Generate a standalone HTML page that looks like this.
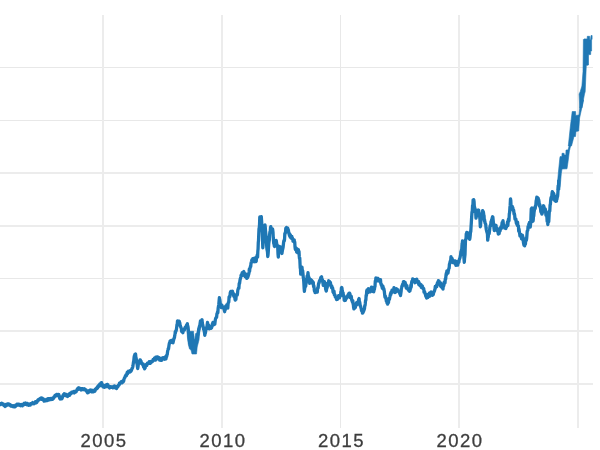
<!DOCTYPE html>
<html><head><meta charset="utf-8"><style>
html,body{margin:0;padding:0;background:#fff;width:600px;height:450px;overflow:hidden}
svg{display:block}
text{font-family:"Liberation Sans",sans-serif;font-size:18.5px;fill:#3d3d3d;stroke:#3d3d3d;stroke-width:0.3px;filter:grayscale(1);text-anchor:middle;letter-spacing:1.5px}
</style></head><body>
<svg width="600" height="450" viewBox="0 0 600 450">
<rect width="600" height="450" fill="#fff"/>
<g shape-rendering="crispEdges"><rect x="0" y="67" width="593" height="1" fill="#e8e8e8"/><rect x="0" y="120" width="593" height="1" fill="#e8e8e8"/><rect x="0" y="172" width="593" height="2" fill="#ececec"/><rect x="0" y="225" width="593" height="2" fill="#ececec"/><rect x="0" y="278" width="593" height="1" fill="#e8e8e8"/><rect x="0" y="330" width="593" height="2" fill="#ececec"/><rect x="0" y="383" width="593" height="2" fill="#ececec"/><rect x="102" y="15" width="2" height="413" fill="#ececec"/><rect x="221" y="15" width="2" height="413" fill="#ececec"/><rect x="340" y="15" width="1" height="413" fill="#e8e8e8"/><rect x="458" y="15" width="2" height="413" fill="#ececec"/><rect x="577" y="15" width="2" height="413" fill="#ececec"/></g>
<g fill="#1f77b4" stroke="#1f77b4" stroke-width="0.6" stroke-linejoin="round"><polygon points="186.6,322.8 188.2,322.8 189.1,331.3 193.5,331.3 194.2,339.5 194.9,339.5 195.6,333.5 198.9,333 199.5,322 200.5,324 199,340 197.2,347 196.5,354 192,354 191,350 189.5,349 188.4,344.7 187.4,337"/><polygon points="556.9,190 558.3,173.3 559.9,157.5 560.2,156.5 561.9,156.5 562,153.3 564.1,153.3 564.3,155 565.8,155 566,150 568,150 570.8,140 572,140 569.4,151 568,162 567,168.8 562,169 561.3,173.5 559.9,190"/><polygon points="568.3,146 570.3,127 572.2,111.5 575.6,111.5 575.8,115.5 579,115 580.5,100 583.5,100 579.6,118 578.7,131 576,131.5 575.5,136.5 574,136.5 571.5,146"/><polygon points="579.8,108 579.1,94 580.2,91.7 581.9,86 583,71.7 583.4,39.5 584,38.9 587.2,38.9 587.3,36.3 589.6,36.3 589.9,39.8 590.6,39.8 591,35.5 592.1,35.5 592.1,39 591.6,40 591.6,51 590.7,51 590.7,54.5 588.5,54.8 588.5,65 586.3,65.6 585.8,77 585.2,91.7 584.5,94 583.3,100.5 582,108"/></g>
<polyline points="0.00,404.20 0.29,403.84 0.57,404.61 0.86,403.57 1.14,404.27 1.43,403.92 1.71,403.33 2.00,404.01 2.30,403.39 2.60,404.23 2.90,403.79 3.20,403.99 3.50,404.72 3.80,405.57 4.10,404.56 4.40,404.90 4.70,405.74 5.00,406.44 5.30,405.69 5.60,405.25 5.90,406.07 6.20,404.38 6.50,405.60 6.80,404.51 7.10,404.12 7.40,403.94 7.70,404.12 8.00,404.83 8.32,403.92 8.64,404.75 8.95,405.00 9.27,404.70 9.59,405.15 9.91,404.50 10.23,404.65 10.55,405.05 10.86,405.99 11.18,405.73 11.50,405.69 11.82,406.17 12.14,405.98 12.46,405.76 12.78,406.61 13.10,406.48 13.42,405.76 13.74,406.33 14.06,406.28 14.38,406.89 14.70,406.68 15.00,405.77 15.30,406.73 15.60,405.12 15.90,405.44 16.20,405.82 16.50,404.63 16.80,405.01 17.10,404.07 17.40,404.95 17.70,404.93 18.00,404.42 18.31,405.02 18.62,404.15 18.93,404.88 19.23,404.79 19.54,404.85 19.85,404.73 20.16,405.45 20.47,405.71 20.77,405.01 21.08,405.41 21.39,404.48 21.70,405.64 22.03,405.40 22.35,405.83 22.68,405.40 23.01,404.36 23.34,404.38 23.66,404.71 23.99,403.48 24.32,404.07 24.65,403.43 24.97,403.20 25.30,402.95 25.61,404.23 25.92,403.23 26.22,403.50 26.53,403.82 26.84,404.71 27.15,403.45 27.45,404.15 27.76,404.40 28.07,405.04 28.38,405.01 28.68,405.16 28.99,404.25 29.30,404.56 29.61,404.35 29.92,405.11 30.23,405.12 30.53,403.65 30.84,403.57 31.15,403.55 31.46,403.43 31.77,403.74 32.08,403.80 32.38,403.13 32.69,402.57 33.00,403.16 33.31,402.97 33.62,403.20 33.92,403.75 34.23,403.19 34.54,402.78 34.85,402.85 35.16,402.84 35.47,401.67 35.78,403.01 36.08,402.70 36.39,402.75 36.70,402.51 36.99,401.53 37.27,401.25 37.56,400.45 37.84,401.09 38.13,399.80 38.41,399.53 38.70,399.49 39.03,399.25 39.36,399.42 39.69,398.76 40.02,398.51 40.35,398.63 40.68,398.39 41.01,398.71 41.34,397.95 41.67,399.32 42.00,398.70 42.30,398.12 42.60,398.55 42.90,398.96 43.20,399.24 43.50,399.06 43.80,400.58 44.10,401.08 44.40,400.40 44.70,400.67 44.99,399.88 45.27,399.80 45.56,400.12 45.84,399.89 46.13,400.78 46.41,399.50 46.70,399.16 46.99,400.68 47.27,399.82 47.56,399.03 47.84,399.62 48.13,398.59 48.41,399.36 48.70,400.05 49.03,399.81 49.36,399.47 49.69,398.66 50.02,398.80 50.35,398.41 50.68,399.44 51.01,398.98 51.34,399.38 51.67,398.54 52.00,398.31 52.29,399.17 52.57,399.30 52.86,398.88 53.14,398.61 53.43,398.44 53.71,398.12 54.00,397.01 54.30,397.20 54.60,396.57 54.90,395.64 55.20,395.30 55.50,395.43 55.80,395.06 56.10,395.52 56.40,395.68 56.70,394.40 56.99,395.38 57.27,395.55 57.56,395.56 57.84,394.53 58.13,394.34 58.41,394.42 58.70,394.44 59.03,395.28 59.35,396.88 59.67,398.20 60.00,398.91 60.29,398.22 60.57,398.49 60.86,398.71 61.14,397.38 61.43,398.37 61.71,398.78 62.00,398.51 62.29,397.85 62.57,396.76 62.86,395.61 63.14,396.13 63.43,394.69 63.71,394.96 64.00,394.68 64.30,393.79 64.60,393.99 64.90,395.20 65.20,394.97 65.50,394.13 65.80,394.24 66.10,394.48 66.40,396.06 66.70,396.06 67.00,394.85 67.30,396.10 67.60,396.38 67.90,395.79 68.20,395.22 68.50,395.59 68.81,394.48 69.12,393.92 69.44,395.36 69.75,394.43 70.06,393.86 70.38,394.29 70.69,393.01 71.00,393.50 71.33,393.36 71.66,392.13 71.99,392.15 72.32,392.17 72.65,392.01 72.98,392.60 73.31,391.92 73.64,392.17 73.97,391.56 74.30,392.98 74.60,391.70 74.90,391.68 75.20,391.69 75.50,392.09 75.80,390.94 76.10,391.67 76.40,390.65 76.70,390.48 77.00,390.25 77.33,388.98 77.66,389.51 77.99,388.72 78.31,388.09 78.64,389.36 78.97,387.84 79.30,388.15 79.58,388.84 79.87,388.71 80.15,388.46 80.43,389.04 80.72,389.31 81.00,389.95 81.33,388.57 81.66,389.40 81.99,388.73 82.32,388.72 82.65,389.63 82.98,389.06 83.31,389.10 83.64,389.43 83.97,389.67 84.30,388.69 84.59,389.22 84.87,389.21 85.16,389.42 85.44,389.98 85.73,389.71 86.01,390.06 86.30,390.16 86.60,391.50 86.90,391.48 87.20,392.27 87.50,392.84 87.81,391.41 88.12,391.85 88.43,392.45 88.74,392.12 89.06,390.64 89.37,390.47 89.68,390.96 89.99,390.11 90.30,390.30 90.60,390.02 90.90,391.22 91.20,391.48 91.50,391.74 91.80,390.36 92.10,391.48 92.40,391.42 92.70,390.47 93.00,391.94 93.29,391.96 93.57,390.37 93.86,391.64 94.14,390.43 94.43,390.46 94.71,391.29 95.00,390.84 95.30,389.24 95.60,389.47 95.90,389.33 96.20,388.68 96.50,388.10 96.80,388.04 97.10,388.54 97.40,386.85 97.70,387.61 98.03,386.99 98.35,385.75 98.68,385.99 99.01,386.19 99.34,385.57 99.66,384.27 99.99,385.75 100.32,384.96 100.65,384.95 100.97,382.78 101.30,382.72 101.58,382.72 101.87,384.70 102.15,384.13 102.43,384.31 102.72,385.38 103.00,386.83 103.30,386.44 103.58,385.51 103.87,385.50 104.15,387.24 104.43,386.74 104.72,387.20 105.00,386.18 105.30,385.83 105.60,386.81 105.90,385.99 106.20,385.00 106.50,386.46 106.80,385.56 107.10,385.61 107.40,384.44 107.70,386.29 108.00,384.98 108.30,386.87 108.60,386.34 108.90,386.39 109.20,387.11 109.51,387.96 109.83,386.76 110.14,386.60 110.45,387.50 110.76,387.04 111.08,386.90 111.39,387.12 111.70,387.01 112.01,387.16 112.33,387.23 112.64,387.06 112.95,387.82 113.26,386.73 113.58,387.00 113.89,386.21 114.20,386.39 114.49,385.91 114.79,386.55 115.08,386.25 115.37,387.85 115.66,387.66 115.96,387.11 116.25,387.85 116.54,388.41 116.84,386.40 117.13,387.47 117.42,386.34 117.71,386.10 118.01,386.43 118.30,385.18 118.58,384.96 118.87,384.88 119.15,385.04 119.43,383.28 119.72,383.84 120.00,383.13 120.30,382.94 120.60,382.41 120.90,382.25 121.20,381.60 121.50,381.71 121.80,381.54 122.10,382.89 122.40,381.84 122.70,381.60 122.99,380.82 123.27,381.79 123.56,381.24 123.84,380.21 124.13,378.76 124.41,378.06 124.70,377.55 125.03,377.25 125.35,375.93 125.67,375.89 126.00,374.83 126.33,375.71 126.65,375.08 126.97,373.47 127.30,372.12 127.59,373.68 127.87,372.13 128.16,372.16 128.44,371.29 128.73,372.08 129.01,372.21 129.30,372.21 129.59,371.42 129.87,372.01 130.16,370.78 130.44,371.26 130.73,370.77 131.01,371.37 131.30,370.46 131.58,369.51 131.86,369.25 132.14,368.18 132.42,368.10 132.70,367.07 133.00,365.60 133.30,363.38 133.60,361.53 133.83,360.44 134.07,357.72 134.30,356.06 134.55,357.19 134.80,354.50 135.05,355.43 135.30,354.67 135.57,354.03 135.83,356.96 136.10,357.99 136.37,359.32 136.63,361.58 136.90,363.76 137.17,363.97 137.43,366.72 137.70,368.51 138.00,366.96 138.30,364.57 138.60,362.30 138.88,361.51 139.16,362.07 139.44,361.35 139.72,361.18 140.00,359.83 140.28,359.81 140.57,360.53 140.85,361.56 141.13,361.40 141.42,363.65 141.70,363.44 142.00,363.93 142.30,364.25 142.60,364.71 142.90,364.57 143.18,364.06 143.47,366.61 143.75,367.14 144.03,367.21 144.32,367.93 144.60,368.87 144.88,366.90 145.15,367.89 145.43,366.17 145.70,365.16 145.97,365.03 146.25,365.55 146.25,364.30 146.54,365.19 146.83,365.38 147.12,363.84 147.42,363.18 147.71,363.03 148.00,363.15 148.32,363.35 148.64,362.98 148.96,363.05 149.28,361.67 149.60,361.84 149.92,362.10 150.24,363.29 150.56,362.22 150.88,362.86 151.20,361.51 151.53,361.16 151.86,361.19 152.19,361.71 152.51,361.29 152.84,360.78 153.17,359.35 153.50,359.44 153.80,359.25 154.10,359.18 154.40,358.25 154.70,360.12 155.00,358.32 155.30,360.20 155.58,359.79 155.87,357.19 156.15,358.00 156.43,358.61 156.72,358.68 157.00,357.07 157.33,356.82 157.65,356.89 157.98,358.95 158.31,357.31 158.64,358.45 158.96,357.56 159.29,358.72 159.62,360.01 159.95,358.16 160.27,360.09 160.60,359.52 160.91,360.39 161.22,359.87 161.53,358.62 161.84,360.21 162.15,359.12 162.46,357.89 162.77,357.77 163.08,358.92 163.39,358.75 163.70,358.30 164.03,357.79 164.36,358.18 164.69,358.00 165.01,359.20 165.34,356.98 165.67,358.74 166.00,358.85 166.32,355.84 166.64,356.69 166.96,354.95 167.28,354.25 167.60,351.45 167.92,350.16 168.23,348.71 168.55,348.85 168.87,346.24 169.18,344.12 169.50,342.80 169.78,342.04 170.07,341.07 170.35,340.88 170.63,342.61 170.92,340.73 171.20,342.23 171.50,340.38 171.80,340.51 172.10,341.28 172.40,340.46 172.70,341.06 173.00,342.78 173.30,341.49 173.60,340.19 173.90,338.58 174.20,338.30 174.50,337.28 174.75,335.14 175.00,334.65 175.25,331.66 175.50,332.69 175.80,330.85 176.10,330.76 176.40,329.44 176.70,327.35 176.97,324.60 177.23,325.34 177.50,320.82 177.79,321.91 178.07,321.51 178.36,321.36 178.64,322.76 178.93,323.51 179.21,321.24 179.50,322.49 179.80,322.87 180.10,325.18 180.40,326.17 180.70,326.98 181.02,327.72 181.35,328.61 181.68,331.47 182.00,330.99 182.29,330.23 182.57,332.36 182.86,332.70 183.14,331.14 183.43,330.28 183.71,330.51 184.00,330.27 184.32,330.12 184.64,328.46 184.96,328.01 185.28,327.16 185.60,327.21 185.88,327.74 186.17,326.87 186.45,325.38 186.73,324.93 187.02,324.83 187.30,323.92 187.62,325.73 187.95,326.81 188.28,329.40 188.60,333.40 188.90,333.90 189.20,338.01 189.50,341.37 189.75,343.27 190.00,342.71 190.25,344.12 190.50,345.31 190.75,343.72 191.00,341.85 191.25,341.29 191.50,339.00 191.75,338.58 192.00,335.62 192.25,335.14 192.50,336.61 192.77,339.47 193.03,340.59 193.30,343.24 193.60,343.62 193.90,346.71 194.20,350.14 194.50,351.86 194.80,350.12 195.10,348.61 195.40,344.81 195.70,342.58 196.00,340.86 196.30,340.06 196.61,339.24 196.93,338.70 197.24,336.79 197.56,335.29 197.87,334.35 198.19,332.16 198.50,331.15 198.79,328.32 199.07,329.29 199.36,326.32 199.64,327.16 199.93,325.03 200.21,322.67 200.50,320.82 200.80,321.01 201.10,322.03 201.40,322.03 201.70,319.97 202.00,319.63 202.32,322.83 202.65,324.76 202.98,325.90 203.30,327.15 203.60,329.51 203.90,328.92 204.20,331.01 204.50,332.68 204.80,335.35 205.10,333.43 205.40,333.15 205.70,330.93 206.00,329.20 206.30,328.03 206.60,329.01 206.90,327.03 207.20,324.60 207.50,322.50 207.80,324.49 208.10,325.54 208.40,325.25 208.70,325.25 209.02,327.27 209.35,328.80 209.68,327.42 210.00,327.58 210.30,328.11 210.60,327.96 210.90,328.36 211.20,326.47 211.50,327.91 211.80,326.94 212.10,325.42 212.40,323.68 212.70,325.27 213.00,322.41 213.30,324.21 213.60,322.55 213.90,322.73 214.20,324.62 214.50,323.36 214.80,324.22 215.10,321.59 215.40,319.40 215.70,318.31 216.00,317.73 216.30,317.54 216.60,317.47 216.90,313.84 217.20,313.65 217.50,312.04 217.82,312.84 218.15,308.29 218.48,306.22 218.80,304.48 219.10,300.77 219.40,297.74 219.70,299.70 220.00,301.18 220.30,304.13 220.60,305.90 220.88,304.38 221.15,304.46 221.42,307.63 221.70,307.55 222.02,305.31 222.34,307.70 222.66,306.94 222.98,307.15 223.30,307.22 223.58,307.50 223.85,307.76 224.12,309.53 224.40,310.60 224.68,311.72 224.97,307.99 225.25,309.93 225.53,306.43 225.82,306.02 226.10,306.71 226.38,306.90 226.67,305.73 226.95,304.59 227.23,306.24 227.52,306.08 227.80,308.14 228.12,303.63 228.44,302.22 228.76,302.11 229.08,297.02 229.40,296.38 229.68,297.08 229.97,296.17 230.25,292.77 230.53,291.99 230.82,291.34 231.10,293.76 231.38,291.30 231.67,293.12 231.95,293.68 232.23,291.60 232.52,291.36 232.80,293.89 233.12,293.75 233.44,293.57 233.76,296.35 234.08,296.02 234.40,296.99 234.70,296.29 235.00,299.27 235.30,300.12 235.60,299.38 235.92,299.38 236.24,294.94 236.56,294.57 236.88,294.33 237.20,294.98 237.48,293.88 237.77,290.68 238.05,289.07 238.33,288.64 238.62,287.78 238.90,288.33 239.22,283.26 239.55,283.42 239.88,280.96 240.20,279.08 240.48,278.32 240.77,277.09 241.05,275.41 241.33,274.81 241.62,274.41 241.90,275.54 242.21,272.55 242.53,272.87 242.84,274.95 243.16,272.75 243.47,271.86 243.79,271.57 244.10,273.51 244.38,272.98 244.67,276.00 244.95,275.99 245.23,276.79 245.52,274.27 245.80,273.94 246.12,274.65 246.44,276.91 246.76,278.41 247.08,278.03 247.40,277.85 247.68,277.27 247.97,276.78 248.25,275.70 248.53,274.70 248.82,273.81 249.10,271.77 249.35,269.00 249.60,271.40 249.88,268.05 250.16,268.08 250.44,266.17 250.72,266.60 251.00,263.24 251.30,262.39 251.60,261.34 251.90,259.90 252.20,261.98 252.50,259.64 252.79,258.60 253.07,258.94 253.36,261.54 253.64,259.50 253.93,258.36 254.21,260.88 254.50,260.26 254.79,261.71 255.07,257.89 255.36,259.49 255.64,260.97 255.93,261.06 256.21,261.38 256.50,257.63 256.77,257.56 257.05,255.65 257.33,254.80 257.60,257.07 257.83,251.37 258.07,248.94 258.30,242.41 258.53,240.37 258.77,234.09 259.00,228.84 259.27,227.69 259.53,224.87 259.80,217.02 260.10,219.38 260.40,219.40 260.70,217.28 261.00,217.94 261.30,216.70 261.55,220.40 261.80,224.05 262.05,229.11 262.30,232.73 262.55,239.63 262.80,247.82 263.07,244.72 263.35,241.82 263.62,235.02 263.90,231.10 264.17,229.32 264.45,230.93 264.73,228.48 265.00,224.87 265.25,227.07 265.50,230.50 265.75,233.24 266.00,235.66 266.25,236.84 266.50,240.95 266.75,247.13 267.00,249.60 267.25,250.54 267.50,252.15 267.75,256.49 268.00,255.18 268.25,252.29 268.50,247.36 268.75,243.62 269.00,241.69 269.30,240.12 269.60,234.96 269.90,231.96 270.20,232.29 270.50,227.57 270.79,226.61 271.07,230.94 271.36,228.63 271.64,230.55 271.93,228.55 272.21,230.85 272.50,228.81 272.75,230.13 273.00,232.20 273.25,237.49 273.50,240.65 273.75,243.64 274.00,241.62 274.25,245.81 274.50,246.42 274.77,245.52 275.05,242.38 275.33,241.50 275.60,241.10 275.92,243.56 276.24,240.40 276.56,242.76 276.88,244.80 277.20,246.13 277.48,245.38 277.75,247.83 278.02,254.21 278.30,257.08 278.57,252.92 278.85,249.02 279.12,250.91 279.40,246.49 279.68,249.16 279.97,248.21 280.25,249.46 280.53,246.81 280.82,249.95 281.10,247.76 281.38,249.57 281.65,252.54 281.93,253.46 282.20,251.60 282.49,249.89 282.77,248.84 283.06,247.51 283.34,245.04 283.63,241.99 283.91,240.69 284.20,241.04 284.52,239.61 284.85,233.33 285.18,233.55 285.50,232.24 285.82,228.15 286.15,231.38 286.48,227.28 286.80,228.98 287.08,228.94 287.36,229.52 287.64,228.16 287.92,228.91 288.20,229.90 288.52,230.77 288.85,233.51 289.18,234.12 289.50,235.71 289.79,233.90 290.07,236.85 290.36,236.38 290.64,235.33 290.93,237.95 291.21,238.17 291.50,236.80 291.80,236.40 292.10,238.68 292.40,237.87 292.70,238.88 293.00,241.18 293.30,239.72 293.60,241.43 293.90,241.85 294.20,239.78 294.50,242.63 294.75,241.97 295.00,246.81 295.25,248.88 295.50,249.55 295.79,247.65 296.07,249.80 296.36,249.38 296.64,252.08 296.93,248.59 297.21,251.95 297.50,252.71 297.80,251.73 298.10,252.30 298.40,249.74 298.70,253.44 299.00,251.46 299.25,256.13 299.50,258.56 299.75,257.94 300.00,263.22 300.23,268.03 300.47,268.69 300.70,274.10 301.02,274.06 301.35,269.96 301.68,271.30 302.00,267.07 302.32,271.29 302.65,270.55 302.98,274.01 303.30,277.68 303.57,278.86 303.85,283.09 304.12,288.02 304.40,291.33 304.72,288.41 305.04,287.08 305.36,285.13 305.68,286.24 306.00,283.40 306.29,282.90 306.57,278.72 306.86,279.80 307.14,275.80 307.43,276.11 307.71,275.19 308.00,272.73 308.29,276.14 308.57,276.21 308.86,277.65 309.14,280.18 309.43,278.46 309.71,283.28 310.00,283.20 310.32,281.61 310.65,282.51 310.98,279.76 311.30,281.92 311.59,280.87 311.87,280.60 312.16,282.74 312.44,282.06 312.73,281.61 313.01,284.37 313.30,282.26 313.59,286.55 313.87,285.72 314.16,288.51 314.44,291.13 314.73,290.96 315.01,292.58 315.30,292.61 315.59,291.09 315.87,290.83 316.16,290.89 316.44,292.24 316.73,291.19 317.01,291.12 317.30,292.17 317.59,288.18 317.87,287.39 318.16,287.85 318.44,284.31 318.73,283.08 319.01,283.28 319.30,281.18 319.59,281.37 319.87,280.08 320.16,280.71 320.44,279.96 320.73,277.68 321.01,278.56 321.30,277.20 321.59,276.81 321.87,280.93 322.16,279.17 322.44,279.76 322.73,280.52 323.01,283.58 323.30,285.43 323.58,284.99 323.86,283.42 324.14,282.79 324.42,281.72 324.70,284.06 325.02,285.49 325.35,286.43 325.68,289.30 326.00,290.29 326.30,291.04 326.60,289.18 326.90,286.25 327.20,287.64 327.50,283.25 327.80,284.50 328.10,283.39 328.40,282.11 328.70,280.79 328.99,283.79 329.27,281.04 329.56,283.34 329.84,285.06 330.13,282.19 330.41,282.63 330.70,284.42 330.99,284.88 331.27,286.25 331.56,287.76 331.84,286.20 332.13,287.57 332.41,288.39 332.70,288.31 333.03,292.17 333.36,292.48 333.69,292.94 334.01,291.04 334.34,294.84 334.67,295.18 335.00,294.87 335.30,296.98 335.60,297.03 335.90,297.32 336.20,297.99 336.50,299.55 336.80,298.19 337.10,298.58 337.40,299.40 337.70,298.54 338.00,298.41 338.30,297.27 338.58,295.74 338.87,296.86 339.15,296.52 339.43,297.88 339.72,297.00 340.00,296.15 340.28,296.07 340.57,295.81 340.85,291.60 341.13,292.61 341.42,287.93 341.70,287.40 341.98,288.23 342.25,291.06 342.52,292.73 342.80,292.91 343.08,292.70 343.37,296.06 343.65,295.38 343.93,296.39 344.22,300.13 344.50,300.47 344.82,300.19 345.14,299.59 345.46,300.22 345.78,297.89 346.10,298.73 346.38,297.98 346.67,298.33 346.95,296.57 347.23,297.38 347.52,296.59 347.80,295.40 348.12,294.71 348.44,295.87 348.76,293.54 349.08,296.24 349.40,293.10 349.68,293.24 349.97,294.10 350.25,297.66 350.53,296.10 350.82,295.94 351.10,296.10 351.38,296.89 351.67,299.96 351.95,300.48 352.23,301.43 352.52,302.30 352.80,300.67 353.07,303.92 353.35,304.53 353.62,307.49 353.90,308.89 354.18,308.77 354.47,305.58 354.75,307.97 355.03,307.76 355.32,307.50 355.60,304.24 355.92,304.12 356.24,303.33 356.56,302.60 356.88,304.97 357.20,304.39 357.52,303.22 357.83,303.34 358.15,302.11 358.47,300.35 358.78,299.13 359.10,298.57 359.40,302.47 359.70,302.09 360.00,304.05 360.30,305.98 360.60,306.16 360.92,307.75 361.24,308.62 361.56,310.87 361.88,310.48 362.20,311.10 362.48,313.16 362.77,311.51 363.05,312.58 363.33,311.70 363.62,309.62 363.90,310.81 364.18,309.32 364.46,308.91 364.74,305.89 365.02,305.57 365.30,303.43 365.58,300.08 365.86,300.16 366.14,295.16 366.42,295.59 366.70,290.98 367.02,290.03 367.34,290.45 367.66,292.22 367.98,292.70 368.30,288.75 368.58,290.65 368.87,290.73 369.15,291.96 369.43,289.76 369.72,291.00 370.00,290.53 370.28,291.79 370.57,289.10 370.85,291.12 371.13,288.09 371.42,287.27 371.70,288.55 371.98,288.33 372.27,287.40 372.55,289.91 372.83,288.36 373.12,291.54 373.40,291.73 373.65,291.82 373.90,290.98 374.15,289.71 374.40,289.63 374.70,287.10 375.00,286.50 375.30,280.90 375.60,281.52 375.88,277.84 376.15,278.24 376.43,278.17 376.70,280.38 377.01,278.98 377.33,278.67 377.64,280.82 377.96,278.44 378.27,279.50 378.59,279.95 378.90,281.00 379.22,281.19 379.54,280.97 379.86,280.01 380.18,280.12 380.50,279.65 380.80,283.53 381.10,284.03 381.40,285.53 381.70,284.54 382.00,286.77 382.30,288.24 382.60,287.70 382.90,286.18 383.20,287.66 383.50,289.45 383.80,288.62 384.10,290.05 384.40,292.07 384.70,295.14 385.00,297.25 385.29,295.82 385.57,296.91 385.86,298.31 386.14,299.67 386.43,301.44 386.71,301.24 387.00,302.90 387.30,301.91 387.60,304.17 387.90,302.81 388.20,300.09 388.50,302.64 388.80,298.48 389.10,298.39 389.40,299.44 389.70,297.67 390.00,296.35 390.29,294.76 390.57,293.39 390.86,294.51 391.14,292.05 391.43,291.92 391.71,292.09 392.00,290.27 392.29,291.20 392.57,292.23 392.86,291.44 393.14,290.29 393.43,290.35 393.71,289.29 394.00,287.65 394.30,289.89 394.60,289.64 394.90,291.40 395.20,292.52 395.50,291.24 395.79,291.35 396.07,291.57 396.36,289.92 396.64,288.77 396.93,290.19 397.21,290.36 397.50,289.53 397.80,289.95 398.10,291.22 398.40,291.27 398.70,291.83 399.00,291.83 399.30,291.81 399.60,293.47 399.90,292.02 400.20,293.70 400.50,295.53 400.80,293.59 401.10,291.58 401.40,288.46 401.70,287.41 402.00,285.83 402.29,285.82 402.57,284.37 402.86,284.75 403.14,285.09 403.43,281.56 403.71,282.74 404.00,282.58 404.29,281.71 404.57,282.75 404.86,285.26 405.14,282.29 405.43,284.88 405.71,284.06 406.00,287.07 406.29,288.03 406.57,286.79 406.86,285.56 407.14,287.71 407.43,287.94 407.71,288.96 408.00,288.55 408.29,289.24 408.57,290.17 408.86,289.22 409.14,289.02 409.43,291.25 409.71,288.70 410.00,290.69 410.30,288.40 410.60,288.59 410.90,284.96 411.20,287.05 411.50,283.44 411.80,281.49 412.10,281.52 412.40,281.21 412.70,278.90 413.00,279.68 413.29,279.83 413.57,281.06 413.86,279.85 414.14,279.65 414.43,279.64 414.71,281.80 415.00,282.72 415.29,281.03 415.57,279.76 415.86,281.96 416.14,280.29 416.43,279.52 416.71,279.12 417.00,281.58 417.29,282.07 417.57,281.74 417.86,281.45 418.14,282.17 418.43,281.22 418.71,284.44 419.00,282.43 419.29,283.96 419.57,285.08 419.86,285.50 420.14,284.59 420.43,284.36 420.71,285.76 421.00,284.57 421.32,287.45 421.65,285.80 421.98,287.86 422.30,285.82 422.59,286.99 422.87,287.28 423.16,288.69 423.44,288.55 423.73,288.63 424.01,292.07 424.30,291.19 424.59,291.73 424.87,292.61 425.16,293.94 425.44,294.42 425.73,295.86 426.01,296.61 426.30,296.20 426.60,298.10 426.90,297.67 427.20,294.63 427.50,297.27 427.80,297.40 428.10,296.80 428.40,294.30 428.70,296.66 429.00,295.79 429.29,293.24 429.57,292.94 429.86,296.10 430.14,294.73 430.43,292.95 430.71,292.12 431.00,291.98 431.29,292.42 431.57,294.52 431.86,293.04 432.14,292.42 432.43,295.28 432.71,294.97 433.00,292.78 433.29,294.58 433.57,292.69 433.86,292.47 434.14,291.20 434.43,291.19 434.71,289.94 435.00,289.28 435.29,286.38 435.57,287.79 435.86,286.70 436.14,287.04 436.43,285.41 436.71,286.64 437.00,284.91 437.28,283.34 437.57,282.78 437.85,281.96 438.13,282.87 438.42,280.74 438.70,281.87 439.03,281.09 439.36,282.91 439.69,283.41 440.01,284.04 440.34,285.75 440.67,282.94 441.00,286.60 441.29,285.46 441.57,286.11 441.86,286.79 442.14,287.74 442.43,286.25 442.71,286.71 443.00,289.05 443.29,284.83 443.57,286.11 443.86,285.25 444.14,282.06 444.43,283.44 444.71,282.87 445.00,282.98 445.32,278.63 445.65,279.21 445.98,275.34 446.30,273.24 446.59,274.62 446.87,270.84 447.16,273.33 447.44,272.67 447.73,271.21 448.01,273.06 448.30,270.75 448.58,269.74 448.86,268.49 449.14,268.04 449.42,264.25 449.70,263.73 450.02,262.05 450.35,260.98 450.68,260.53 451.00,256.60 451.29,259.41 451.57,258.09 451.86,259.02 452.14,258.52 452.43,260.03 452.71,262.53 453.00,261.66 453.29,262.46 453.57,260.71 453.86,260.87 454.14,261.00 454.43,262.44 454.71,262.86 455.00,263.70 455.30,260.95 455.60,264.24 455.90,265.33 456.20,264.29 456.50,262.61 456.80,263.36 457.10,261.82 457.40,262.29 457.70,265.08 458.00,263.46 458.29,262.81 458.57,262.52 458.86,262.18 459.14,260.05 459.43,259.22 459.71,258.40 460.00,257.85 460.30,256.02 460.60,254.99 460.90,251.53 461.20,252.14 461.50,249.81 461.75,249.43 462.00,244.70 462.25,243.30 462.50,240.88 462.75,246.00 463.00,248.37 463.25,248.95 463.50,249.41 463.77,255.42 464.03,259.24 464.30,262.26 464.53,258.63 464.77,256.48 465.00,254.66 465.25,246.68 465.50,239.68 465.75,239.29 466.00,239.29 466.25,233.77 466.50,234.82 466.79,232.46 467.07,232.98 467.36,236.40 467.64,235.43 467.93,237.19 468.21,235.10 468.50,233.21 468.80,235.37 469.10,236.73 469.40,238.76 469.70,239.36 470.00,237.38 470.25,234.96 470.50,231.35 470.75,231.82 471.00,227.61 471.32,222.53 471.65,217.07 471.98,212.23 472.30,210.95 472.57,205.35 472.85,207.11 473.12,199.78 473.40,201.29 473.72,199.67 474.05,201.45 474.38,207.50 474.70,207.36 475.02,211.91 475.35,211.10 475.68,212.41 476.00,218.09 476.28,216.70 476.56,216.35 476.84,214.64 477.12,210.24 477.40,211.96 477.72,212.38 478.04,211.10 478.36,213.53 478.68,210.03 479.00,213.69 479.32,216.08 479.65,216.19 479.98,219.92 480.30,226.74 480.58,225.43 480.86,219.63 481.14,218.63 481.42,218.60 481.70,213.60 482.02,216.34 482.34,213.63 482.66,210.64 482.98,211.42 483.30,211.69 483.55,212.99 483.80,216.20 484.05,215.51 484.30,220.79 484.59,219.76 484.87,222.31 485.16,223.37 485.44,223.47 485.73,224.45 486.01,227.56 486.30,229.47 486.58,230.82 486.86,231.90 487.14,232.73 487.42,233.79 487.70,240.22 487.99,237.63 488.27,236.89 488.56,233.22 488.84,233.19 489.13,233.65 489.41,231.63 489.70,229.19 490.02,226.18 490.35,225.17 490.68,225.85 491.00,221.74 491.32,221.68 491.65,219.69 491.98,219.59 492.30,217.56 492.59,216.72 492.87,217.13 493.16,220.26 493.44,222.87 493.73,225.50 494.01,228.43 494.30,230.58 494.59,226.09 494.87,229.55 495.16,229.06 495.44,228.95 495.73,227.12 496.01,225.28 496.30,227.72 496.59,228.45 496.87,228.81 497.16,230.87 497.44,229.09 497.73,228.79 498.01,232.00 498.30,234.12 498.59,230.88 498.87,233.13 499.16,233.61 499.44,229.88 499.73,231.29 500.01,231.24 500.30,229.83 500.60,227.69 500.90,227.03 501.20,228.56 501.50,227.87 501.80,225.36 502.10,222.64 502.40,225.29 502.70,224.24 503.00,220.67 503.29,223.35 503.57,225.87 503.86,226.76 504.14,225.94 504.43,226.67 504.71,228.18 505.00,227.19 505.29,226.82 505.57,226.38 505.86,228.52 506.14,226.49 506.43,227.09 506.71,225.91 507.00,226.08 507.29,223.32 507.57,221.84 507.86,225.59 508.14,221.55 508.43,219.25 508.71,220.92 509.00,220.74 509.30,213.99 509.60,212.68 509.90,207.81 510.20,205.16 510.50,198.94 510.80,200.47 511.10,206.99 511.40,207.77 511.70,207.23 511.99,207.85 512.27,206.45 512.56,209.36 512.84,207.71 513.13,210.63 513.41,209.89 513.70,210.36 514.03,214.09 514.35,213.45 514.67,215.37 515.00,219.21 515.29,219.29 515.57,219.00 515.86,219.02 516.14,221.73 516.43,223.47 516.71,221.61 517.00,224.22 517.29,225.17 517.57,222.14 517.86,225.91 518.14,226.07 518.43,225.87 518.71,231.08 519.00,228.83 519.33,231.63 519.65,233.32 519.97,236.14 520.30,236.10 520.60,235.10 520.90,235.66 521.20,234.60 521.50,238.69 521.80,239.11 522.10,235.79 522.40,235.24 522.70,236.56 523.00,237.31 523.33,241.75 523.65,243.62 523.97,245.17 524.30,243.44 524.59,245.92 524.87,244.69 525.16,243.52 525.44,244.19 525.73,239.02 526.01,238.54 526.30,240.49 526.60,239.04 526.90,235.49 527.20,231.36 527.50,230.44 527.79,230.39 528.07,226.37 528.36,226.57 528.64,225.38 528.93,223.87 529.21,224.77 529.50,222.37 529.75,223.46 530.00,223.75 530.25,227.12 530.50,224.62 530.77,222.75 531.03,214.79 531.30,208.60 531.60,212.38 531.90,207.88 532.20,210.76 532.47,215.21 532.73,220.12 533.00,221.22 533.25,219.74 533.50,214.96 533.75,216.19 534.00,212.77 534.30,210.67 534.60,208.75 534.90,207.16 535.20,208.69 535.50,205.88 535.83,205.05 536.15,200.85 536.47,199.64 536.80,197.12 537.08,200.65 537.36,199.79 537.64,197.59 537.92,201.49 538.20,198.25 538.48,200.15 538.75,199.91 539.02,201.66 539.30,205.80 539.60,204.38 539.90,204.76 540.20,207.70 540.50,208.05 540.80,211.69 541.10,208.20 541.40,213.27 541.70,209.12 542.00,214.03 542.30,211.87 542.60,208.50 542.90,208.88 543.20,206.88 543.50,205.73 543.80,206.04 544.10,207.49 544.40,211.35 544.70,211.99 545.00,212.20 545.30,208.92 545.60,210.92 545.90,215.03 546.20,211.74 546.50,216.15 546.83,215.96 547.15,221.40 547.47,218.59 547.80,224.52 548.03,222.21 548.27,221.22 548.50,220.54 548.75,221.66 549.00,217.13 549.25,212.39 549.50,210.67 549.80,210.84 550.10,204.92 550.40,204.48 550.70,199.87 551.00,197.78 551.33,199.58 551.65,197.90 551.97,193.72 552.30,191.70 552.60,191.87 552.90,194.84 553.20,194.35 553.50,193.27 553.80,194.00 554.10,197.31 554.40,198.92 554.70,200.58 555.00,200.44 555.30,198.40 555.60,197.67 555.90,201.25 556.20,199.51 556.50,201.19 556.75,196.36 557.00,199.18 557.25,195.36 557.50,196.86 557.77,194.67 558.03,190.29 558.30,185.30 558.55,186.32 558.80,179.87" fill="none" stroke="#1f77b4" stroke-width="3.3" stroke-linejoin="round" stroke-linecap="butt"/>
<text x="104.0" y="446.8">2005</text><text x="223.0" y="446.8">2010</text><text x="341.5" y="446.8">2015</text><text x="460.0" y="446.8">2020</text>
</svg>
</body></html>
